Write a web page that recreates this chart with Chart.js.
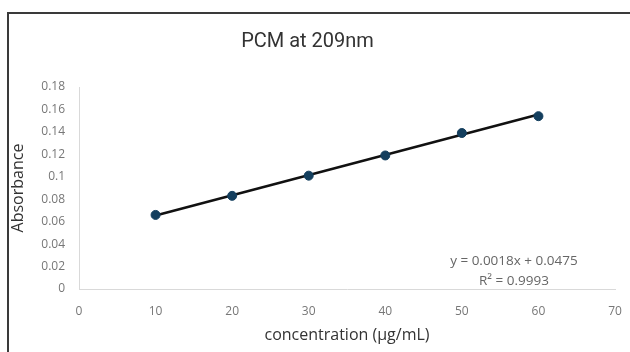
<!DOCTYPE html>
<html>
<head>
<meta charset="utf-8">
<script src="https://cdn.jsdelivr.net/npm/chart.js@4/dist/chart.umd.min.js"></script>
<style>
  body { margin: 0; background: #fff; }
  #wrap { position: relative; width: 630px; height: 352px; overflow: hidden; }
  #frame { position: absolute; left: 7px; top: 12px; width: 700px; height: 400px; border-left: 2px solid #3a3a3a; border-top: 2px solid #3a3a3a; }
  canvas { position: absolute; left: 0; top: 0; }
</style>
</head>
<body>
<div id="wrap">
  <div id="frame"></div>
  <canvas id="pcmChart" width="630" height="352"></canvas>
</div>
<script>
// concentration (µg/mL) et absorbance
const concentrations = [10, 20, 30, 40, 50, 60];
const absorbances = [0.066, 0.083, 0.101, 0.119, 0.139, 0.154];

// équation de la courbe de tendance affichée
const slope = 0.0018;
const intercept = 0.0475;
const trendX = [10, 60];
const equationLines = ['y = 0.0018x + 0.0475', 'R² = 0.9993'];

const xTicks = [0, 10, 20, 30, 40, 50, 60, 70];
const yTicks = ['0', '0.02', '0.04', '0.06', '0.08', '0.1', '0.12', '0.14', '0.16', '0.18'];

const fontFam = "'Open Sans', 'Noto Sans', sans-serif";

const equationPlugin = {
    id: 'equation',
    afterDatasetsDraw(chart) {
        const ctx = chart.ctx;
        const x = chart.scales.x.getPixelForValue(56.8);
        const y = chart.scales.y.getPixelForValue(0.025);
        ctx.save();
        ctx.fillStyle = '#666';
        ctx.font = '13.5px ' + fontFam;
        ctx.textAlign = 'center';
        ctx.textBaseline = 'middle';
        ctx.fillText(equationLines[0], x, y);
        ctx.fillText(equationLines[1], x, y + 20);
        ctx.restore();
    }
};

const ctx = document.getElementById('pcmChart').getContext('2d');
new Chart(ctx, {
    type: 'scatter',
    data: {
        datasets: [{
            label: 'Tendance',
            type: 'line',
            data: trendX.map(x => ({ x: x, y: slope * x + intercept })),
            borderColor: '#111',
            borderWidth: 2.5,
            pointRadius: 0,
            fill: false,
            order: 2
        }, {
            label: 'Absorbance',
            data: concentrations.map((c, i) => ({ x: c, y: absorbances[i] })),
            backgroundColor: '#143f5e',
            borderColor: '#143f5e',
            pointRadius: 4.5,
            order: 1
        }]
    },
    options: {
        responsive: false,
        animation: false,
        layout: { padding: { left: 0, right: 15, top: 0, bottom: 0 } },
        plugins: {
            legend: { display: false },
            tooltip: { enabled: false },
            title: {
                display: true,
                text: 'PCM at 209nm',
                color: '#333',
                font: { family: 'Roboto, sans-serif', size: 20, weight: 'normal' },
                padding: { top: 30, bottom: 33 }
            }
        },
        scales: {
            x: {
                type: 'linear',
                min: 0,
                max: 70,
                afterBuildTicks: s => { s.ticks = xTicks.map(v => ({ value: v })); },
                afterFit: s => { s.height = 63; s.paddingLeft = 0; s.paddingRight = 0; },
                grid: { display: false, drawTicks: false },
                border: { display: true, color: '#d9d9d9', width: 1 },
                ticks: { color: '#777', padding: 15, font: { family: fontFam, size: 12 } },
                title: {
                    display: true,
                    text: 'concentration (µg/mL)',
                    color: '#333',
                    font: { family: fontFam, size: 16 },
                    padding: { top: 0, bottom: 7 }
                }
            },
            y: {
                min: 0,
                max: 0.18,
                afterBuildTicks: s => { s.ticks = yTicks.map(v => ({ value: Number(v) })); },
                afterFit: s => { s.width = 79; },
                grid: { display: false, drawTicks: false },
                border: { display: true, color: '#d9d9d9', width: 1 },
                ticks: {
                    color: '#777',
                    padding: 14,
                    font: { family: fontFam, size: 12 },
                    callback: (v, i) => yTicks[i]
                },
                title: {
                    display: true,
                    text: 'Absorbance',
                    color: '#333',
                    font: { family: fontFam, size: 16 },
                    padding: { top: 9, bottom: 0 }
                }
            }
        }
    },
    plugins: [equationPlugin]
});
</script>
</body>
</html>
